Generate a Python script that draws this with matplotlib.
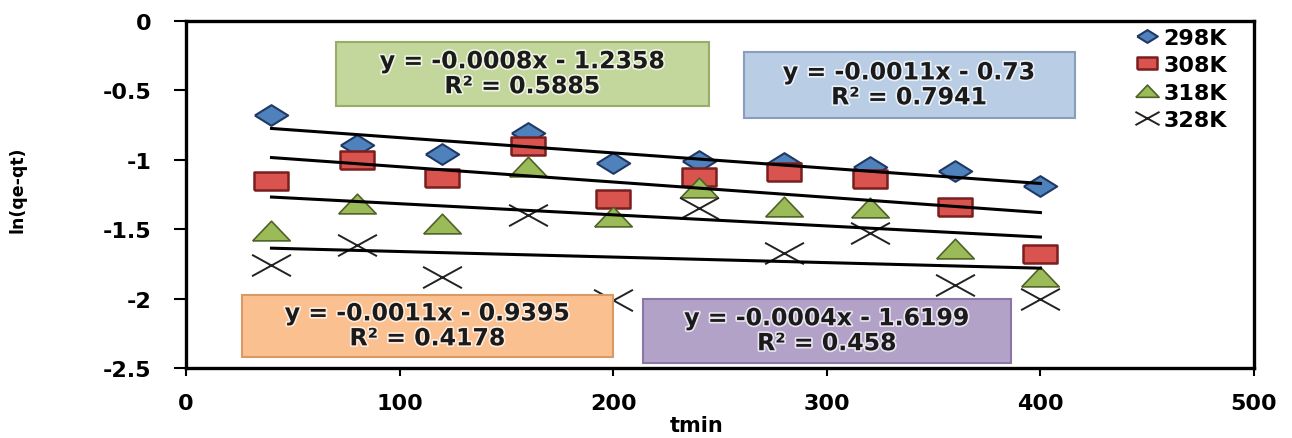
import matplotlib.pyplot as plt
import matplotlib.patheffects as pe
from matplotlib.path import Path
from matplotlib.patches import Rectangle

# Kinetic data: ln(qe-qt) against time (min) at four temperatures
t = [40, 80, 120, 160, 200, 240, 280, 320, 360, 400]
ln_298 = [-0.68, -0.89, -0.96, -0.81, -1.02, -1.01, -1.02, -1.05, -1.08, -1.19]
ln_308 = [-1.15, -1.00, -1.13, -0.90, -1.28, -1.12, -1.09, -1.14, -1.34, -1.68]
ln_318 = [-1.51, -1.32, -1.46, -1.05, -1.41, -1.20, -1.34, -1.35, -1.64, -1.84]
ln_328 = [-1.76, -1.61, -1.84, -1.40, -2.01, -1.35, -1.67, -1.53, -1.90, -2.00]

labels = ['298K', '308K', '318K', '328K']

# Linear fits (slope, intercept, R²) for each temperature
slopes = [-0.0011, -0.0011, -0.0008, -0.0004]
intercepts = [-0.73, -0.9395, -1.2358, -1.6199]
r2 = [0.7941, 0.4178, 0.5885, 0.458]

# Equation boxes: (x0, x1, y0, y1) in data units, fill colour, edge colour
box_spans = [(261, 416, -0.70, -0.22), (26, 200, -2.42, -1.97),
             (70, 245, -0.61, -0.15), (214, 386, -2.46, -2.00)]
box_fill = ['#b9cde5', '#fac090', '#c3d69b', '#b3a2c7']
box_edge = ['#8a9dbb', '#d99a66', '#98ad68', '#8a77a8']

# Wide markers (Excel-style, stretched horizontally)
diamond = Path([(-1, 0), (0, 0.62), (1, 0), (0, -0.62), (-1, 0)])
rect = Path([(-1, -0.56), (1, -0.56), (1, 0.56), (-1, 0.56), (-1, -0.56)])
tri = Path([(-1, -0.5), (1, -0.5), (0, 0.55), (-1, -0.5)])
cross = Path([(-1, -0.55), (1, 0.55), (-1, 0.55), (1, -0.55)],
             [Path.MOVETO, Path.LINETO, Path.MOVETO, Path.LINETO])

styles = [
    dict(marker=diamond, ms=24, mfc='#4f81bd', mec='#1f3864', mew=1.5),
    dict(marker=rect, ms=24, mfc='#d9534f', mec='#7a1f1f', mew=1.8),
    dict(marker=tri, ms=27, mfc='#9bbb59', mec='#4f6228', mew=1.2),
    dict(marker=cross, ms=28, mfc='none', mec='#222222', mew=1.4),
]

plt.rcParams['font.family'] = 'DejaVu Sans'
plt.rcParams['font.weight'] = 'bold'

fig = plt.figure(figsize=(12.92, 4.39), dpi=100)
ax = fig.add_axes([0.144, 0.159, 0.8266, 0.791])

series = [ln_298, ln_308, ln_318, ln_328]
for y, lab, st in zip(series, labels, styles):
    ax.plot(t, y, ls='none', label=lab, zorder=3, **st)

# Trend lines from the fitted equations
for m, b in zip(slopes, intercepts):
    xs = [t[0], t[-1]]
    ax.plot(xs, [m * x + b for x in xs], color='black', lw=2.2, zorder=4)

# Equation boxes
halo = [pe.withStroke(linewidth=2.5, foreground='white', alpha=0.7)]
for (x0, x1, y0, y1), fc, ec, m, b, r in zip(box_spans, box_fill, box_edge,
                                            slopes, intercepts, r2):
    ax.add_patch(Rectangle((x0, y0), x1 - x0, y1 - y0, facecolor=fc,
                           edgecolor=ec, lw=1.5, zorder=5))
    txt = f'y = {m:g}x - {abs(b):g}\nR² = {r:g}'
    ax.text((x0 + x1) / 2, (y0 + y1) / 2, txt, ha='center', va='center',
            multialignment='center', fontsize=17, fontweight='bold',
            color='#1a1a1a', linespacing=1.05, zorder=6, path_effects=halo)

ax.set_xlim(0, 500)
ax.set_ylim(-2.5, 0)
ax.set_xticks([0, 100, 200, 300, 400, 500])
ax.set_yticks([0, -0.5, -1, -1.5, -2, -2.5])
ax.set_yticklabels(['0', '-0.5', '-1', '-1.5', '-2', '-2.5'])

for sp in ax.spines.values():
    sp.set_linewidth(2.4)
ax.tick_params(axis='y', direction='out', length=9, width=1.5, pad=16,
               labelsize=16)
ax.tick_params(axis='x', direction='out', length=6, width=1.5, pad=12,
               labelsize=16)

ax.set_xlabel('tmin', fontsize=15, fontweight='bold')
ax.xaxis.set_label_coords(0.478, -0.135)
ax.set_ylabel('ln(qe-qt)', fontsize=12.5, fontweight='bold')
ax.yaxis.set_label_coords(-0.149, 0.516)

ax.legend(loc='upper right', bbox_to_anchor=(0.975, 0.98), frameon=False,
          markerscale=0.62, handlelength=1.1, handletextpad=0.2,
          labelspacing=0.33, borderaxespad=0, borderpad=0,
          prop={'size': 16, 'weight': 'bold'})

fig.savefig('out.png', dpi=100)
